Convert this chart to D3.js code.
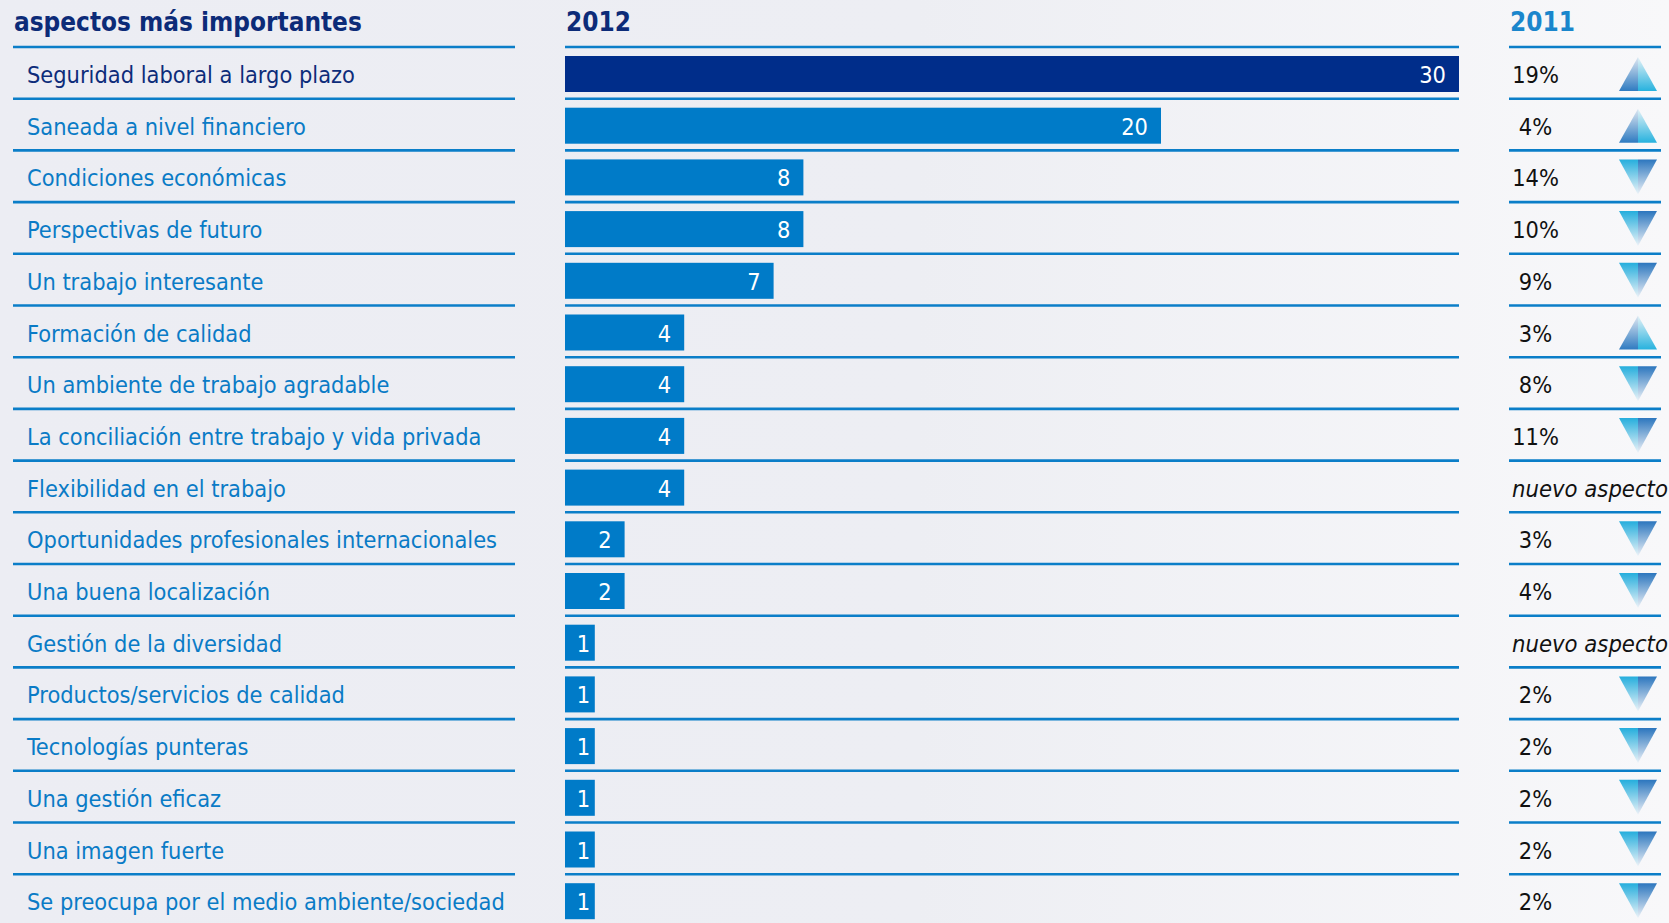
<!DOCTYPE html>
<html>
<head>
<meta charset="utf-8">
<script src="https://cdn.jsdelivr.net/npm/d3@7"></script>
<style>
  html, body { margin: 0; padding: 0; background: #ECEDF3; }
  svg { display: block; }
</style>
</head>
<body>
<svg id="chart" width="1669" height="923"></svg>
<script>
// ---------- data ----------
const categories = [
  "Seguridad laboral a largo plazo",
  "Saneada a nivel financiero",
  "Condiciones económicas",
  "Perspectivas de futuro",
  "Un trabajo interesante",
  "Formación de calidad",
  "Un ambiente de trabajo agradable",
  "La conciliación entre trabajo y vida privada",
  "Flexibilidad en el trabajo",
  "Oportunidades profesionales internacionales",
  "Una buena localización",
  "Gestión de la diversidad",
  "Productos/servicios de calidad",
  "Tecnologías punteras",
  "Una gestión eficaz",
  "Una imagen fuerte",
  "Se preocupa por el medio ambiente/sociedad"
];
const values2012 = [30, 20, 8, 8, 7, 4, 4, 4, 4, 2, 2, 1, 1, 1, 1, 1, 1];
const values2011 = [19, 4, 14, 10, 9, 3, 8, 11, null, 3, 4, null, 2, 2, 2, 2, 2];
const headerLabels = ["aspectos más importantes", "2012", "2011"];
const newLabel = "nuevo aspecto";

// ---------- layout ----------
const W = 1669, H = 923;
const svg = d3.select("#chart");
const FONT = "'DejaVu Sans Condensed', 'DejaVu Sans', Verdana, sans-serif";

// background gradient
const defs = svg.append("defs");
const bg = defs.append("linearGradient").attr("id", "bg").attr("x1", 0).attr("x2", 1).attr("y1", 0).attr("y2", 0);
bg.append("stop").attr("offset", "0%").attr("stop-color", "#ECEDF3");
bg.append("stop").attr("offset", "55%").attr("stop-color", "#EDEEF3");
bg.append("stop").attr("offset", "100%").attr("stop-color", "#F8F8FA");
svg.append("rect").attr("width", W).attr("height", H).attr("fill", "url(#bg)");

// triangle gradients
function vgrad(id, top, bottom) {
  const g = defs.append("linearGradient").attr("id", id).attr("x1", 0).attr("x2", 0).attr("y1", 0).attr("y2", 1);
  g.append("stop").attr("offset", "0%").attr("stop-color", top);
  g.append("stop").attr("offset", "100%").attr("stop-color", bottom);
}
vgrad("upL", "#dfe8f2", "#2f7bc1");
vgrad("upR", "#e6f2f7", "#27b2de");
vgrad("dnL", "#25aedd", "#eef3f8");
vgrad("dnR", "#2c76be", "#eef3f8");

// fit font sizes to measured widths
function fit(text, target, weight, style) {
  const t = svg.append("text").attr("font-family", FONT).attr("font-size", 100)
    .attr("font-weight", weight || "normal").attr("font-style", style || "normal").text(text);
  const w = t.node().getComputedTextLength();
  t.remove();
  return 100 * target / w;
}
const labelSize = fit("Se preocupa por el medio ambiente/sociedad", 478);
const titleSize = fit(headerLabels[0], 348, "bold");
const italSize = fit(newLabel, 156, "normal", "italic");

const rowTop = 47, rowH = 51.7;
const y = d3.scaleBand().domain(categories).range([rowTop, rowTop + rowH * categories.length]).paddingInner(0).paddingOuter(0);
const x = d3.scaleLinear().domain([0, 30]).range([565, 1459]);

const lineColor = "#0b7ec8";
const cols = [[13, 515], [565, 1459], [1509, 1661]];

// headers
svg.append("text").attr("x", 14).attr("y", 31).attr("font-family", FONT).attr("font-weight", "bold")
  .attr("font-size", titleSize).attr("fill", "#0c2b78").text(headerLabels[0]);
svg.append("text").attr("x", 566).attr("y", 31).attr("font-family", FONT).attr("font-weight", "bold")
  .attr("font-size", titleSize).attr("fill", "#0c2b78").text(headerLabels[1]);
svg.append("text").attr("x", 1510).attr("y", 31).attr("font-family", FONT).attr("font-weight", "bold")
  .attr("font-size", titleSize).attr("fill", "#1a86cc").text(headerLabels[2]);

// separator lines
const lg = svg.append("g");
categories.forEach(c => {
  cols.forEach(([a, b]) => {
    lg.append("line").attr("x1", a).attr("x2", b).attr("y1", y(c)).attr("y2", y(c))
      .attr("stroke", lineColor).attr("stroke-width", 2.6);
  });
});

// labels
svg.append("g").selectAll("text").data(categories).join("text")
  .attr("x", 27).attr("y", d => y(d) + 36)
  .attr("font-family", FONT).attr("font-size", labelSize)
  .attr("fill", (d, i) => i === 0 ? "#0d2c7a" : "#0a7bc6")
  .text(d => d);

// bars
svg.append("g").selectAll("rect").data(values2012).join("rect")
  .attr("x", x(0)).attr("y", (d, i) => y(categories[i]) + 9)
  .attr("width", d => x(d) - x(0)).attr("height", 36)
  .attr("fill", (d, i) => i === 0 ? "#002d8a" : "#007bc8");

svg.append("g").selectAll("text").data(values2012).join("text")
  .attr("x", d => Math.max(x(d) - 13, x(0) + 25)).attr("y", (d, i) => y(categories[i]) + 36)
  .attr("text-anchor", "end").attr("font-family", FONT).attr("font-size", labelSize)
  .attr("fill", "#ffffff").text(d => d);

// 2011 column
const rg = svg.append("g");
values2011.forEach((v, i) => {
  const top = y(categories[i]);
  if (v === null) {
    rg.append("text").attr("x", 1512).attr("y", top + 36)
      .attr("font-family", FONT).attr("font-size", italSize).attr("font-style", "italic")
      .attr("fill", "#111").text(newLabel);
    return;
  }
  rg.append("text").attr("x", 1535.5).attr("y", top + 36).attr("text-anchor", "middle")
    .attr("font-family", FONT).attr("font-size", labelSize).attr("fill", "#111").text(v + "%");
  const cx = 1638, hw = 19;
  if (values2012[i] > v) {
    const t = top + 10, b = top + 44;
    rg.append("path").attr("d", `M${cx},${t}L${cx - hw},${b}L${cx},${b}Z`).attr("fill", "url(#upL)");
    rg.append("path").attr("d", `M${cx},${t}L${cx + hw},${b}L${cx},${b}Z`).attr("fill", "url(#upR)");
  } else {
    const t = top + 9, b = top + 44;
    rg.append("path").attr("d", `M${cx - hw},${t}L${cx},${t}L${cx},${b}Z`).attr("fill", "url(#dnL)");
    rg.append("path").attr("d", `M${cx},${t}L${cx + hw},${t}L${cx},${b}Z`).attr("fill", "url(#dnR)");
  }
});
</script>
</body>
</html>
